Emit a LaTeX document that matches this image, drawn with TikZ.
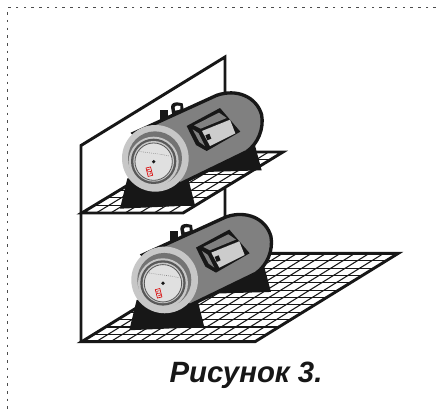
\documentclass[tikz,border=0pt]{standalone}
\usepackage{fontspec}
\usetikzlibrary{calc}
\setmainfont{Liberation Sans}
\definecolor{ink}{gray}{0.09}
\tikzset{
  heavy/.style={draw=ink,line width=2.2pt,line join=miter},
  gridline/.style={draw=ink,line width=0.8pt},
}
\newcommand{\heater}{%
  % legs
  \fill[ink] (172,385) -- (150,476) -- (375,466) -- (352,375) -- cycle;
  \fill[ink] (552,275) -- (575,361) -- (405,366) -- (340,392) -- (400,300) -- cycle;
  % pipe and handle
  \fill[ink] (271,179) -- (295,179) -- (295,222) -- (271,222) -- cycle;
  \fill[ink] (303,172) .. controls (303,160) and (312,157) .. (322,157) -- (338,160) -- (342,185) -- (308,200) -- cycle;
  \fill[white] (314,172) .. controls (314,167) and (320,166) .. (331,168) -- (331,178) -- (316,182) -- cycle;
  % body
  \filldraw[draw=ink,line width=2.5pt,fill=black!50]
    (190,250) -- (440,136) .. controls (500,115) and (560,140) .. (575,195)
    .. controls (582,235) and (565,280) .. (530,305) -- (330,402) -- cycle;
  % control box
  \fill[ink] (350,228) -- (450,174) -- (511,245) -- (410,303) -- (378,285) -- cycle;
  \fill[black!50] (372,226) -- (447,188) -- (470,204) -- (392,236) -- cycle;
  \fill[black!50] (368,238) -- (386,250) -- (405,288) -- (388,276) -- cycle;
  \fill[black!20] (396,243) -- (480,209) -- (496,250) -- (420,288) -- cycle;
  \fill[ink] (406,256) -- (418,251) -- (424,266) -- (412,271) -- cycle;
  \draw[black!55,line width=0.3pt,densely dotted] (412,236) -- (476,211);
  % front disc
  \fill[black!22] (256,325) circle[radius=100];
  \fill[black!55] (255,325) circle[radius=81];
  \fill[black!22] (251,335) circle[radius=75];
  \fill[black!65] (251,334) circle[radius=68];
  \fill[black!22] (251,334) circle[radius=61];
  \filldraw[fill=black!12,draw=black!65,line width=0.6pt] (251,335) circle[radius=56];
  \fill[ink] (251,335) circle[radius=5.5];
  \draw[black!55,line width=0.45pt,densely dotted] (209,304) .. controls (235,309) and (275,312) .. (298,318);
  % red label
  \draw[red!85!black,line width=0.45pt,rotate around={14:(238,365)}] (231,352) rectangle (245,378);
  \draw[red!85!black,line width=0.35pt,rotate around={14:(238,365)}] (242,358) -- (234,358) -- (234,365) -- (242,365) -- (242,372) -- (234,372);
}
\begin{document}
\begin{tikzpicture}[x=0.75pt,y=-0.75pt]
\useasboundingbox (0,0) rectangle (436,411);
\fill[white] (0,0) rectangle (436,411);
% dotted frame
\draw[black!70,line width=1.2pt,dash pattern=on 1.9pt off 3.9pt] (436,7.5) -- (7.5,7.5) -- (7.5,411);
% wall
\draw[heavy] (81,341) -- (81,145.5) -- (225,57) -- (225,216);
% lower shelf
\coordinate (LA) at (81.7,341.7);
\coordinate (LB) at (255,341.7);
\coordinate (LC) at (398.3,253.3);
\coordinate (LD) at (225,253.3);
\fill[white] (LA) -- (LB) -- (LC) -- (LD) -- cycle;
\foreach \i in {1,...,11}{
  \draw[gridline] ($(LA)!\i/12!(LB)$) -- ($(LD)!\i/12!(LC)$);
  \draw[gridline] ($(LA)!\i/12!(LD)$) -- ($(LB)!\i/12!(LC)$);
}
\draw[heavy] (LA) -- (LB) -- (LC) -- (LD) -- cycle;
% upper shelf
\coordinate (UA) at (81.7,213);
\coordinate (UB) at (183,213);
\coordinate (UC) at (283,152);
\coordinate (UD) at (182.7,152);
\fill[white] (UA) -- (UB) -- (UC) -- (UD) -- cycle;
\foreach \i in {1,...,6}{
  \draw[gridline] ($(UA)!\i/7!(UB)$) -- ($(UD)!\i/7!(UC)$);
}
\foreach \i in {1,...,7}{
  \draw[gridline] ($(UA)!\i/8!(UD)$) -- ($(UB)!\i/8!(UC)$);
}
\draw[heavy] (UA) -- (UB) -- (UC) -- (UD) -- cycle;
% heaters
\begin{scope}[shift={(70,50)},x=0.25pt,y=-0.25pt]\heater\end{scope}
\begin{scope}[shift={(79.3,171.6)},x=0.25pt,y=-0.25pt]\heater\end{scope}
% caption
\node[font=\bfseries\itshape\fontsize{22}{25}\selectfont,text=ink] (caption) at (246,375) {Рисунок 3.};
\end{tikzpicture}
\end{document}
